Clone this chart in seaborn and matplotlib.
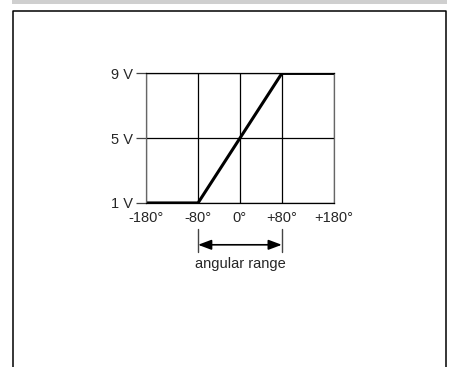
import numpy as np
import pandas as pd
import seaborn as sns
import matplotlib.pyplot as plt
from matplotlib.patches import Rectangle
from matplotlib.lines import Line2D

# data: output voltage vs angle
angle = [-180, -80, 80, 180]
volts = [1, 1, 9, 9]
x_ticks = [-180, -80, 0, 80, 180]
x_labels = ['-180°', '-80°', '0°', '+80°', '+180°']
y_ticks = [1, 5, 9]
y_labels = ['1 V', '5 V', '9 V']
range_lo, range_hi = -80, 80

df = pd.DataFrame({'angle': angle, 'volts': volts})

sns.set_style('white')
plt.rcParams['font.family'] = ['Liberation Sans', 'DejaVu Sans']

fig = plt.figure(figsize=(4.51, 3.67), dpi=100)
ax = fig.add_axes([0.323, 0.447, 0.418, 0.353])

sns.lineplot(data=df, x='angle', y='volts', ax=ax, color='black', linewidth=2.2)

ax.set_xlim(-180, 180)
ax.set_ylim(1, 9)
ax.set_xticks(x_ticks)
ax.set_xticklabels(x_labels)
ax.set_yticks(y_ticks)
ax.set_yticklabels(y_labels)
ax.set_xlabel('')
ax.set_ylabel('')
ax.grid(True, color='black', linewidth=0.9)
ax.set_axisbelow(True)
ax.tick_params(axis='y', left=True, direction='out', length=7, width=0.9,
               color='#444444', pad=2, labelsize=10.5)
ax.tick_params(axis='x', bottom=False, length=0, pad=6, labelsize=10.5)
for side in ['top', 'bottom']:
    ax.spines[side].set_color('black')
    ax.spines[side].set_linewidth(0.9)
for side in ['left', 'right']:
    ax.spines[side].set_color('#666666')
    ax.spines[side].set_linewidth(0.9)

# angular range annotation under the axis
tr = ax.get_xaxis_transform()
for xv in [range_lo, range_hi]:
    ax.plot([xv, xv], [-0.2, -0.377], transform=tr, clip_on=False,
            color='#444444', linewidth=1)
ax.annotate('', xy=(range_hi, -0.323), xytext=(range_lo, -0.323),
            xycoords=tr, textcoords=tr,
            arrowprops=dict(arrowstyle='<|-|>,head_length=0.8,head_width=0.3',
                            color='black', lw=1.2, shrinkA=0, shrinkB=0))
ax.text(0, -0.47, 'angular range', transform=tr, ha='center', va='center',
        fontsize=10.5)

# page frame
fig.add_artist(Rectangle((12 / 451, 1 - 3.5 / 367), 435 / 451, 3.5 / 367,
                         transform=fig.transFigure, color='#cfcfcf', lw=0))
top_y = 1 - 10.5 / 367
lx, rx = 12.8 / 451, 445.8 / 451
fig.add_artist(Line2D([lx, lx, rx, rx], [0, top_y, top_y, 0],
                      transform=fig.transFigure, color='black', lw=1.1))

fig.savefig('out.png', dpi=100)
